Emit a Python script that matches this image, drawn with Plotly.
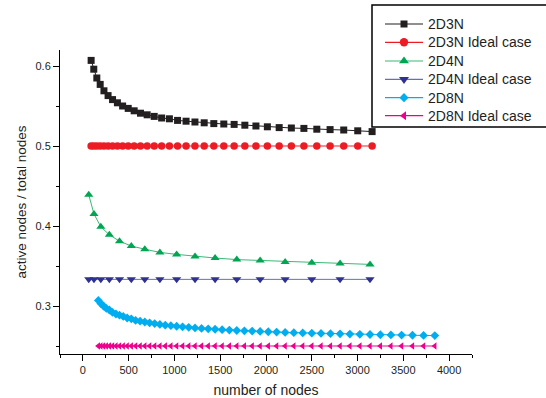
import plotly.graph_objects as go

# ---- data ----
x_2d3n = [90, 119, 152, 189, 230, 275, 324, 377, 434, 495, 560, 629, 702, 779, 860,
          945, 1034, 1127, 1224, 1325, 1430, 1539, 1652, 1769, 1890, 2015, 2144, 2277,
          2414, 2555, 2700, 2849, 3002, 3159]
y_2d3n = [0.607, 0.596, 0.585, 0.577, 0.569, 0.563, 0.558, 0.554, 0.550, 0.547, 0.544,
          0.541, 0.539, 0.537, 0.535, 0.534, 0.532, 0.531, 0.530, 0.529, 0.528, 0.5275,
          0.527, 0.526, 0.525, 0.524, 0.523, 0.5225, 0.522, 0.521, 0.5205, 0.520, 0.519,
          0.518]
ideal_2d3n = 0.5

x_2d4n = [64, 121, 196, 289, 400, 529, 676, 841, 1024, 1225, 1444, 1681, 1936, 2209,
          2500, 2809, 3136]
y_2d4n = [0.439, 0.415, 0.399, 0.389, 0.381, 0.375, 0.371, 0.367, 0.3645, 0.362, 0.360,
          0.358, 0.357, 0.355, 0.354, 0.353, 0.352]
ideal_2d4n = 0.3333

x_2d8n = [169, 196, 225, 256, 289, 324, 361, 400, 441, 484, 529, 576, 625, 676, 729, 784,
          841, 900, 961, 1024, 1089, 1156, 1225, 1296, 1369, 1444, 1521, 1600, 1681, 1764,
          1849, 1936, 2025, 2116, 2209, 2304, 2401, 2500, 2601, 2704, 2809, 2916, 3025,
          3136, 3249, 3364, 3481, 3600, 3721, 3844]
y_2d8n = [0.307, 0.303, 0.300, 0.297, 0.295, 0.292, 0.290, 0.2885, 0.287, 0.285,
          0.284, 0.282, 0.281, 0.280, 0.279, 0.278, 0.277, 0.276, 0.2754, 0.2747,
          0.274, 0.2733, 0.2726, 0.272, 0.2715, 0.2709, 0.2704, 0.2699, 0.2694, 0.269,
          0.2686, 0.2682, 0.2678, 0.2674, 0.267, 0.2667, 0.2664, 0.266, 0.2657, 0.2654,
          0.2652, 0.2649, 0.2646, 0.2644, 0.2641, 0.2639, 0.2636, 0.2634, 0.2632, 0.263]
ideal_2d8n = 0.25

series_names = ["2D3N", "2D3N Ideal case", "2D4N", "2D4N Ideal case", "2D8N", "2D8N Ideal case"]
x_tickvals = [0, 500, 1000, 1500, 2000, 2500, 3000, 3500, 4000]
y_tickvals = [0.3, 0.4, 0.5, 0.6]

FONT = "Arial, Liberation Sans, sans-serif"
TXT = "#231f20"

# style per series: marker colour, line colour, symbol, size
styles = [
    ("#231f20", "#231f20", "square", 7),
    ("#ed1c24", "#ed1c24", "circle", 7.5),
    ("#00a651", "#3cb878", "triangle-up", 8),
    ("#2e3192", "#6a6cb8", "triangle-down", 8),
    ("#00aeef", "#00aeef", "diamond", 6.8),
    ("#ec008c", "#ec008c", "triangle-left", 6.5),
]
xs_list = [x_2d3n, x_2d3n, x_2d4n, x_2d4n, x_2d8n, x_2d8n]
ys_list = [y_2d3n, [ideal_2d3n] * len(x_2d3n), y_2d4n, [ideal_2d4n] * len(x_2d4n),
           y_2d8n, [ideal_2d8n] * len(x_2d8n)]

fig = go.Figure()
for name, xs, ys, (mcol, lcol, sym, size) in zip(series_names, xs_list, ys_list, styles):
    fig.add_trace(go.Scatter(
        x=xs, y=ys, name=name, mode="lines+markers", showlegend=False,
        line=dict(color=lcol, width=1),
        marker=dict(symbol=sym, size=size, color=mcol, line=dict(width=0)),
    ))

L, R, T, B = 60, 74, 50, 44
W, H = 546, 398
pw, ph = W - L - R, H - T - B


def px_x(px):
    return (px - L) / pw


def px_y(py):
    return (H - B - py) / ph


shapes = []
annotations = []
# legend frame
shapes.append(dict(type="rect", xref="paper", yref="paper",
                   x0=px_x(372), x1=px_x(560), y0=px_y(127), y1=px_y(5),
                   line=dict(color="black", width=1.5), fillcolor="rgba(0,0,0,0)", layer="above"))

# legend symbol outlines in pixels (y up), per symbol
sym_paths = {
    "square": "M-3.5,-3.5 L3.5,-3.5 L3.5,3.5 L-3.5,3.5 Z",
    "triangle-up": "M-5,-2.3 L5,-2.3 L0,4.6 Z",
    "triangle-down": "M-5,2.3 L5,2.3 L0,-4.6 Z",
    "diamond": "M4.6,0 L0,4.6 L-4.6,0 L0,-4.6 Z",
    "triangle-left": "M-4,0 L2,4.5 L2,-4.5 Z",
}
row_y = [24, 42.3, 61, 79.3, 97.7, 115.7]
for name, ry, (mcol, lcol, sym, size) in zip(series_names, row_y, styles):
    shapes.append(dict(type="line", xref="paper", yref="paper",
                       x0=px_x(385), x1=px_x(423), y0=px_y(ry), y1=px_y(ry),
                       line=dict(color=lcol, width=1.2), layer="above"))
    if sym == "circle":
        shapes.append(dict(type="circle", xref="paper", yref="paper",
                           xsizemode="pixel", ysizemode="pixel",
                           xanchor=px_x(404), yanchor=px_y(ry),
                           x0=-4.2, x1=4.2, y0=-4.2, y1=4.2,
                           fillcolor=mcol, line=dict(width=0), layer="above"))
    else:
        shapes.append(dict(type="path", xref="paper", yref="paper",
                           xsizemode="pixel", ysizemode="pixel",
                           xanchor=px_x(404), yanchor=px_y(ry),
                           path=sym_paths[sym],
                           fillcolor=mcol, line=dict(width=0), layer="above"))
    annotations.append(dict(text=name, xref="paper", yref="paper",
                            x=px_x(426), y=px_y(ry), xanchor="left", yanchor="middle",
                            showarrow=False, font=dict(family=FONT, size=14, color=TXT)))

fig.update_layout(
    width=W, height=H,
    margin=dict(l=L, r=R, t=T, b=B, autoexpand=False),
    paper_bgcolor="white", plot_bgcolor="white",
    font=dict(family=FONT, size=11, color=TXT),
    showlegend=False,
    shapes=shapes,
    annotations=annotations,
    xaxis=dict(range=[-250, 4250], tickvals=x_tickvals, ticks="outside", ticklen=6,
               tickwidth=1, tickcolor="black", showline=True, linecolor="black",
               linewidth=1, showgrid=False, zeroline=False,
               tickfont=dict(family=FONT, size=11, color=TXT),
               minor=dict(ticks="outside", ticklen=3, dtick=250, tick0=0, tickcolor="black", showgrid=False),
               title=dict(text="number of nodes", font=dict(family=FONT, size=14, color=TXT), standoff=9)),
    yaxis=dict(range=[0.24, 0.62], tickvals=y_tickvals, tickformat=".1f", ticks="outside",
               ticklen=6, tickwidth=1, tickcolor="black", showline=True, linecolor="black",
               linewidth=1, showgrid=False, zeroline=False,
               tickfont=dict(family=FONT, size=11, color=TXT),
               minor=dict(ticks="outside", ticklen=3, dtick=0.05, tick0=0.25, tickcolor="black", showgrid=False),
               title=dict(text="active nodes / total nodes", font=dict(family=FONT, size=13.5, color=TXT), standoff=5)),
)

fig.write_html("out.html", config={"displayModeBar": False},
               post_script="document.body.style.margin='0';")
